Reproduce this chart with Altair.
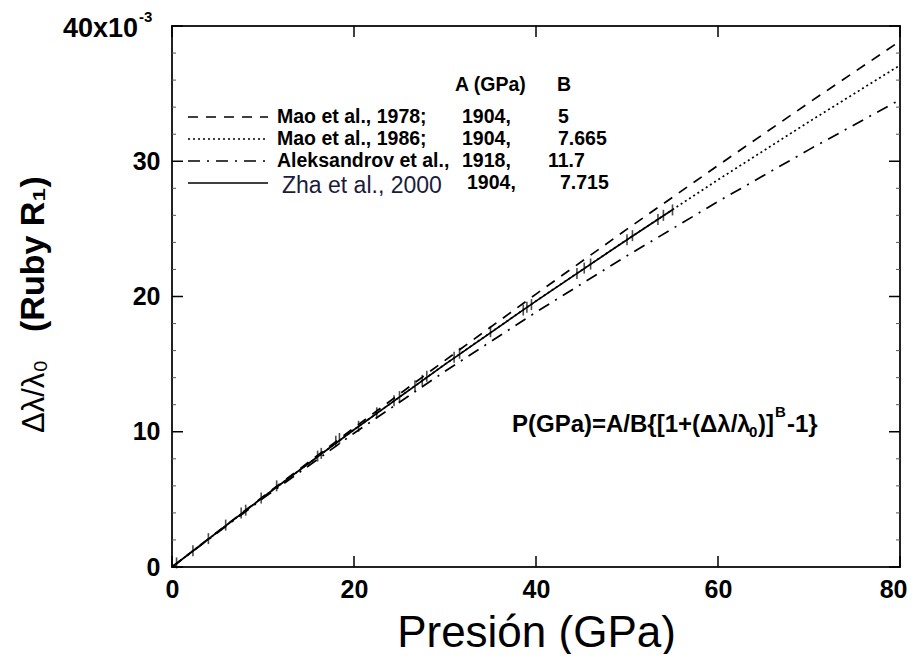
import altair as alt
import pandas as pd

# ---------------- data ----------------
pressure = [0, 10, 20, 30, 40, 50, 60, 70, 80]
mao1978 = [0, 5.20, 10.29, 15.28, 20.18, 24.98, 29.69, 34.33, 38.88]
mao1986 = [0, 5.16, 10.15, 14.99, 19.67, 24.21, 28.63, 32.92, 37.10]
aleksandrov = [0, 5.07, 9.89, 14.47, 18.84, 23.01, 27.02, 30.86, 34.55]
zha_p = [0, 10, 20, 30, 40, 50, 55]
zha = [0, 5.16, 10.15, 14.98, 19.66, 24.20, 26.42]

pts_p = [0.5, 2.3, 4.0, 5.9, 7.6, 8.1, 9.8, 11.5, 16.0, 16.4, 18.0, 18.4, 20.5,
         22.5, 24.4, 25.0, 26.7, 27.5, 28.0, 31.0, 31.6, 35.0, 38.6, 39.0, 39.5,
         44.5, 45.3, 46.0, 50.0, 50.6, 53.4, 54.0, 55.0]
pts_y = [0.3, 1.2, 2.1, 3.1, 4.0, 4.2, 5.1, 6.0, 8.2, 8.4, 9.3, 9.5, 10.4,
         11.4, 12.3, 12.6, 13.4, 13.8, 14.1, 15.5, 15.8, 17.4, 19.0, 19.2, 19.4,
         21.7, 22.1, 22.4, 24.2, 24.5, 25.7, 26.0, 26.4]

x_ticks = [0, 20, 40, 60, 80]
y_ticks = [0, 10, 20, 30, 40]
y_minor = [2, 4, 6, 8, 12, 14, 16, 18, 22, 24, 26, 28, 32, 34, 36, 38]

legend_names = ["Mao et al., 1978;", "Mao et al., 1986;", "Aleksandrov et al.,", "Zha et al., 2000"]
legend_A = ["1904,", "1904,", "1918,", "1904,"]
legend_B = ["5", "7.665", "11.7", "7.715"]
header_A = "A (GPa)"
header_B = "B"
formula_parts = ["P(GPa)=A/B{[1+(\u0394\u03bb/\u03bb", "0", ")]", "B", "-1}"]
y_title_parts = ["\u0394\u03bb/\u03bb\u2080", "(Ruby R\u2081)"]
x_title = "Presión (GPa)"
top_label = ["40x10", "-3"]

# ---------------- layout ----------------
W, H = 728, 541
FONT = "Liberation Sans"
dummy = pd.DataFrame({"a": [0]})

xs = alt.Scale(domain=[0, 80], nice=False, zero=False)
ys = alt.Scale(domain=[0, 40], nice=False, zero=False)

xaxis = alt.Axis(values=x_ticks, ticks=False, domain=False, grid=False,
                 labelFont=FONT, labelFontWeight="bold", labelFontSize=25,
                 labelPadding=10, labelColor="black",
                 labelFlush=True, labelFlushOffset=7,
                 title=x_title, titleFont=FONT, titleFontSize=44,
                 titleFontWeight="normal", titleColor="black",
                 titleY=79, titleBaseline="alphabetic")
yaxis = alt.Axis(values=y_ticks, ticks=False, domain=False, grid=False,
                 labelExpr="datum.value == 40 ? '' : datum.label",
                 labelFont=FONT, labelFontWeight="bold", labelFontSize=25,
                 labelPadding=12, labelColor="black", labelFlush=False,
                 title=None)

X = alt.X("P:Q", scale=xs, axis=xaxis)
Y = alt.Y("y:Q", scale=ys, axis=yaxis)


def line(p, v, dash=None):
    df = pd.DataFrame({"P": p, "y": v})
    kw = dict(color="black", strokeWidth=1.7)
    if dash is not None:
        kw["strokeDash"] = dash
    return alt.Chart(df).mark_line(**kw).encode(x=X, y=Y)


def txt(s, x, y, size, weight="bold", align="left", baseline="middle",
        angle=0, color="black"):
    return alt.Chart(dummy).mark_text(
        text=s, align=align, baseline=baseline, fontSize=size,
        fontWeight=weight, font=FONT, angle=angle, color=color
    ).encode(x=alt.value(x), y=alt.value(y))


def leg_rule(x1, x2, y, dash=None):
    kw = dict(color="black", strokeWidth=1.7)
    if dash is not None:
        kw["strokeDash"] = dash
    return alt.Chart(dummy).mark_rule(**kw).encode(
        x=alt.value(x1), x2=alt.value(x2), y=alt.value(y))


dash_mao78 = [10, 8]
dash_mao86 = [2, 3]
dash_alek = [12, 7, 2, 7]

layers = []
layers.append(line(pressure, mao1978, dash_mao78))
layers.append(line(pressure, mao1986, dash_mao86))
layers.append(line(pressure, aleksandrov, dash_alek))
layers.append(line(zha_p, zha))

pts = pd.DataFrame({"P": pts_p, "y": pts_y})
layers.append(alt.Chart(pts).mark_tick(orient="vertical", size=11, thickness=1.6,
                                       color="black").encode(x=X, y=Y))

# inward ticks
yt = pd.DataFrame({"y": y_ticks})
ym = pd.DataFrame({"y": y_minor})
xt = pd.DataFrame({"P": x_ticks})
layers.append(alt.Chart(yt).mark_rule(color="black", strokeWidth=1.5).encode(
    y=Y, x=alt.value(0), x2=alt.value(11)))
layers.append(alt.Chart(yt).mark_rule(color="black", strokeWidth=1.5).encode(
    y=Y, x=alt.value(W - 11), x2=alt.value(W)))
layers.append(alt.Chart(ym).mark_rule(color="#555", strokeWidth=1).encode(
    y=Y, x=alt.value(0), x2=alt.value(4)))
layers.append(alt.Chart(ym).mark_rule(color="#555", strokeWidth=1).encode(
    y=Y, x=alt.value(W - 4), x2=alt.value(W)))
layers.append(alt.Chart(xt).mark_rule(color="black", strokeWidth=1.5).encode(
    x=X, y=alt.value(H), y2=alt.value(H - 11)))
layers.append(alt.Chart(xt).mark_rule(color="black", strokeWidth=1.5).encode(
    x=X, y=alt.value(0), y2=alt.value(11)))

# top y label with superscript
layers.append(txt(top_label[0], -34, 3, 27, align="right"))
layers.append(txt(top_label[1], -33, -9, 15, align="left"))

# y title (rotated, reads bottom to top)
layers.append(txt(y_title_parts[0], -128, 407, 31, weight="normal",
                  baseline="alphabetic", angle=270))
layers.append(txt(y_title_parts[1], -128, 306, 34, weight="bold",
                  baseline="alphabetic", angle=270))

# legend
row_y = [91, 113, 135, 157]
dashes = [dash_mao78, dash_mao86, dash_alek, None]
layers.append(txt(header_A, 283, 59, 19.5))
layers.append(txt(header_B, 385, 59, 19.5))
a_x = [290, 290, 290, 295]
b_x = [386, 386, 376, 388]
for i in range(4):
    layers.append(leg_rule(16, 96, row_y[i], dashes[i]))
    if i < 3:
        layers.append(txt(legend_names[i], 105, row_y[i], 19.5))
    else:
        layers.append(txt(legend_names[i], 110, row_y[i] + 3, 23,
                          weight="normal", color="#1b1b3a"))
    layers.append(txt(legend_A[i], a_x[i], row_y[i], 19.5))
    layers.append(txt(legend_B[i], b_x[i], row_y[i], 19.5))

# formula
layers.append(txt(formula_parts[0], 340, 406, 24, baseline="alphabetic"))
layers.append(txt(formula_parts[1], 577, 411, 15, baseline="alphabetic"))
layers.append(txt(formula_parts[2], 586, 406, 24, baseline="alphabetic"))
layers.append(txt(formula_parts[3], 603, 391, 15, baseline="alphabetic"))
layers.append(txt(formula_parts[4], 615, 406, 24, baseline="alphabetic"))

chart = alt.layer(*layers).properties(
    width=W, height=H,
    autosize=alt.AutoSizeParams(type="none"),
    padding={"left": 164, "top": 18, "right": 7, "bottom": 87},
).configure_view(stroke="#222", strokeWidth=2)

chart.save("out.html", embed_options={"renderer": "svg", "actions": False})
